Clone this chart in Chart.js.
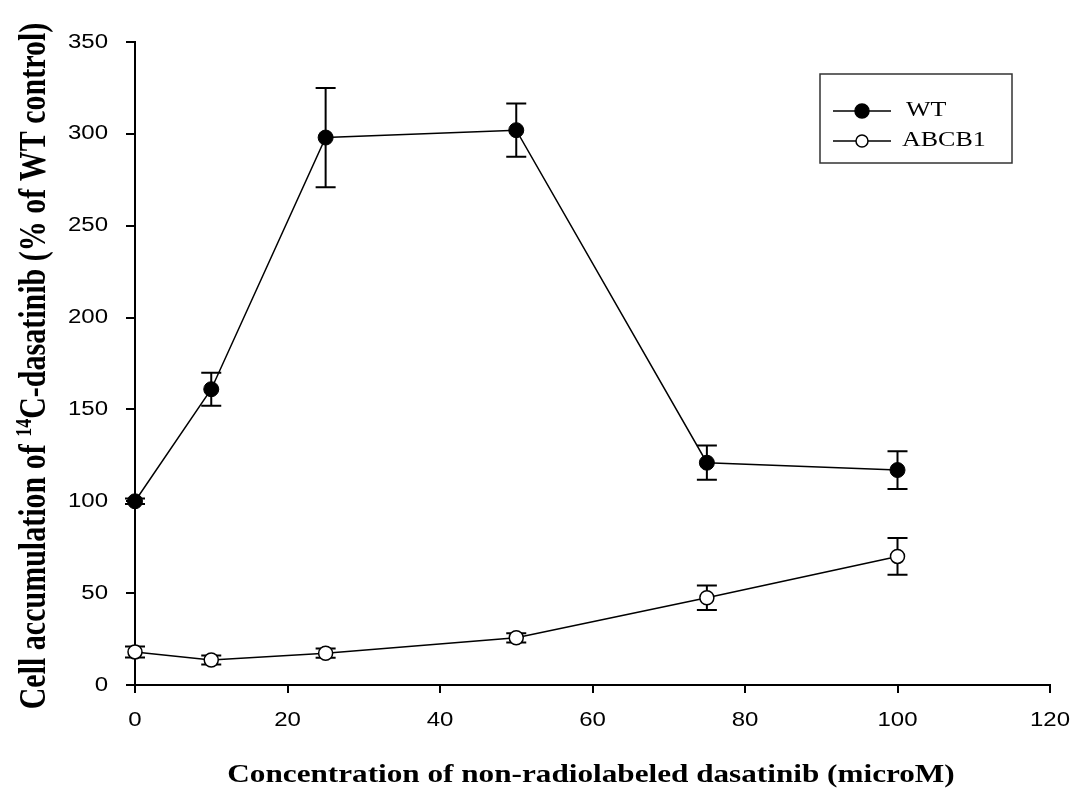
<!DOCTYPE html>
<html>
<head>
<meta charset="utf-8">
<script src="https://cdn.jsdelivr.net/npm/chart.js@4.4.1/dist/chart.umd.min.js"></script>
<style>
  body { margin: 0; background: #fff; }
  #wrap { width: 1073px; height: 793px; }
</style>
</head>
<body>
<div id="wrap"><canvas id="accumChart"></canvas></div>
<script>
// dasatinib concentrations (microM)
const concentrations = [0, 10, 25, 50, 75, 100];

// WT cells, % of WT control, mean and error
const wtMean = [100, 161, 298, 302, 121, 117];
const wtErr = [1.5, 9, 27, 14.5, 9.3, 10.3];

// ABCB1 cells
const abcb1Mean = [18, 13.6, 17.3, 25.7, 47.5, 70];
const abcb1Err = [3, 2.5, 2.5, 2.5, 6.7, 10];

const seriesLabels = ['WT', 'ABCB1'];
const xTitle = 'Concentration of non-radiolabeled dasatinib (microM)';
const yTitleParts = ['Cell accumulation of ', '14', 'C-dasatinib (% of WT control)'];

const serif = '"Liberation Serif", "Times New Roman", serif';
const sans = '"Liberation Sans", Arial, sans-serif';

function toPoints(xs, ys) {
  return xs.map((x, i) => ({ x: x, y: ys[i] }));
}

// text in the figure is a little wider than the font's natural width
function stretchedText(ctx, text, x, y, sx, align, baseline) {
  ctx.save();
  ctx.translate(x, y);
  ctx.scale(sx, 1);
  ctx.textAlign = align;
  ctx.textBaseline = baseline;
  ctx.fillText(text, 0, 0);
  ctx.restore();
}

// vertical error bars with caps, under the markers
const errorBars = {
  id: 'errorBars',
  beforeDatasetsDraw(chart) {
    const ctx = chart.ctx;
    const ys = chart.scales.y;
    ctx.save();
    ctx.strokeStyle = '#000';
    ctx.lineWidth = 2;
    chart.data.datasets.forEach((ds, di) => {
      const meta = chart.getDatasetMeta(di);
      meta.data.forEach((pt, i) => {
        const v = ds.data[i].y, e = ds.errors[i];
        const top = ys.getPixelForValue(v + e);
        const bot = ys.getPixelForValue(v - e);
        ctx.beginPath();
        ctx.moveTo(pt.x, top); ctx.lineTo(pt.x, bot);
        ctx.moveTo(pt.x - 10, top); ctx.lineTo(pt.x + 10, top);
        ctx.moveTo(pt.x - 10, bot); ctx.lineTo(pt.x + 10, bot);
        ctx.stroke();
      });
    });
    ctx.restore();
  }
};

// tick labels, axis titles and the boxed legend
const decorations = {
  id: 'decorations',
  afterDraw(chart) {
    const ctx = chart.ctx;
    const xs = chart.scales.x, ys = chart.scales.y;
    ctx.save();
    ctx.fillStyle = '#000';

    ctx.font = '20px ' + sans;
    xs.ticks.forEach(t => {
      stretchedText(ctx, String(t.value), xs.getPixelForValue(t.value), 720, 1.2, 'center', 'middle');
    });
    ys.ticks.forEach(t => {
      stretchedText(ctx, String(t.value), 108, ys.getPixelForValue(t.value), 1.2, 'right', 'middle');
    });

    ctx.font = 'bold 26px ' + serif;
    stretchedText(ctx, xTitle, 591, 782, 1.2, 'center', 'alphabetic');

    // rotated y title with a superscript mass number
    const big = 'bold 30px ' + serif, small = 'bold 18px ' + serif;
    ctx.font = big;
    const w0 = ctx.measureText(yTitleParts[0]).width;
    const w2 = ctx.measureText(yTitleParts[2]).width;
    ctx.font = small;
    const w1 = ctx.measureText(yTitleParts[1]).width;
    const total = w0 + w1 + w2;
    ctx.save();
    ctx.translate(45, 366);
    ctx.scale(1.25, 1);
    ctx.rotate(-Math.PI / 2);
    ctx.textAlign = 'left';
    ctx.textBaseline = 'alphabetic';
    let px = -total / 2;
    ctx.font = big;
    ctx.fillText(yTitleParts[0], px, 0);
    px += w0;
    ctx.font = small;
    ctx.fillText(yTitleParts[1], px, -11);
    px += w1;
    ctx.font = big;
    ctx.fillText(yTitleParts[2], px, 0);
    ctx.restore();

    // legend
    ctx.strokeStyle = '#333';
    ctx.lineWidth = 1.5;
    ctx.strokeRect(820, 74, 192, 89);
    const rows = [111, 141];
    chart.data.datasets.forEach((ds, i) => {
      const y = rows[i];
      ctx.strokeStyle = '#000';
      ctx.lineWidth = 1.5;
      ctx.beginPath();
      ctx.moveTo(833, y); ctx.lineTo(891, y);
      ctx.stroke();
      ctx.beginPath();
      ctx.arc(862, y, i === 0 ? 7 : 6, 0, Math.PI * 2);
      ctx.fillStyle = ds.pointBackgroundColor;
      ctx.fill();
      ctx.stroke();
      ctx.fillStyle = '#000';
      ctx.font = '20px ' + serif;
      stretchedText(ctx, ds.label, i === 0 ? 906 : 902, y, 1.3, 'left', 'middle');
    });
    ctx.restore();
  }
};

new Chart(document.getElementById('accumChart'), {
  type: 'line',
  data: {
    datasets: [
      {
        label: seriesLabels[0],
        data: toPoints(concentrations, wtMean),
        errors: wtErr,
        borderColor: '#000',
        borderWidth: 1.5,
        pointRadius: 7.5,
        pointBackgroundColor: '#000',
        pointBorderColor: '#000',
        pointBorderWidth: 1,
        tension: 0,
        clip: false
      },
      {
        label: seriesLabels[1],
        data: toPoints(concentrations, abcb1Mean),
        errors: abcb1Err,
        borderColor: '#000',
        borderWidth: 1.5,
        pointRadius: 7,
        pointBackgroundColor: '#fff',
        pointBorderColor: '#000',
        pointBorderWidth: 1.5,
        tension: 0,
        clip: false
      }
    ]
  },
  options: {
    responsive: true,
    maintainAspectRatio: false,
    animation: false,
    layout: { padding: { top: 42, right: 23, left: 0, bottom: 0 } },
    plugins: { legend: { display: false }, tooltip: { enabled: false } },
    scales: {
      x: {
        type: 'linear',
        min: 0, max: 120,
        ticks: { stepSize: 20, display: false },
        grid: { drawOnChartArea: false, color: '#000', lineWidth: 2, tickLength: 8 },
        border: { color: '#000', width: 2 },
        afterFit: s => { s.height = 108; }
      },
      y: {
        min: 0, max: 350,
        ticks: { stepSize: 50, display: false },
        grid: { drawOnChartArea: false, color: '#000', lineWidth: 2, tickLength: 9 },
        border: { color: '#000', width: 2 },
        afterFit: s => { s.width = 135; }
      }
    }
  },
  plugins: [errorBars, decorations]
});
</script>
</body>
</html>
